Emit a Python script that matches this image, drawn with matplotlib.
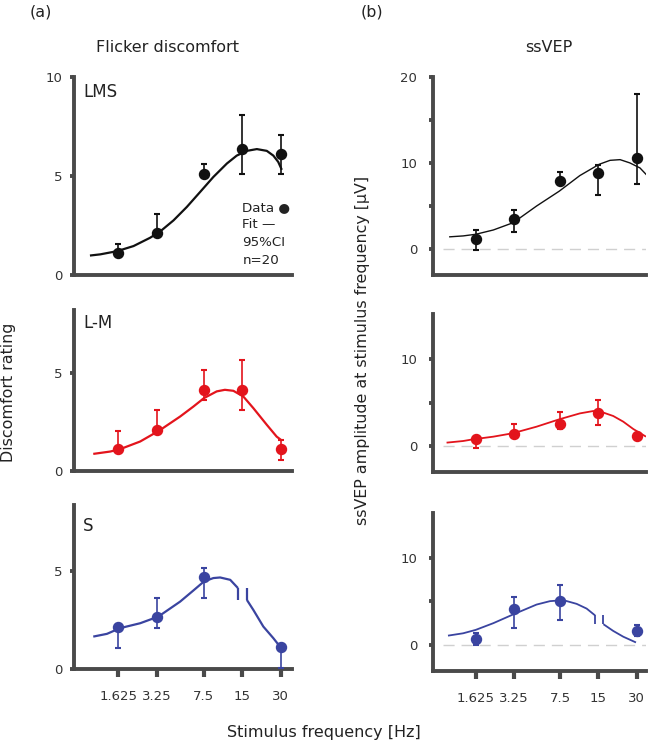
import numpy as np
import matplotlib
matplotlib.use("Agg")
import matplotlib.pyplot as plt
from matplotlib.ticker import FixedLocator, NullLocator, FixedFormatter

plt.rcParams['font.family'] = ['DejaVu Sans']

nan = np.nan

# ---------------- data ----------------
freqs = [1.625, 3.25, 7.5, 15, 30]
freq_labels = ["1.625", "3.25", "7.5", "15", "30"]

# Flicker discomfort ratings (mean, lower CI, upper CI)
disc_lms = [1.07, 2.08, 5.08, 6.35, 6.09]
disc_lms_lo = [0.92, 1.93, 4.93, 5.08, 5.08]
disc_lms_hi = [1.52, 3.05, 5.58, 8.07, 7.06]

disc_lm = [1.10, 2.09, 4.13, 4.13, 1.10]
disc_lm_lo = [0.95, 1.94, 3.59, 3.08, 0.56]
disc_lm_hi = [2.06, 3.08, 5.12, 5.63, 1.58]

disc_s = [2.12, 2.63, 4.68, nan, 1.10]
disc_s_lo = [1.05, 2.07, 3.64, nan, 0.03]
disc_s_hi = [2.27, 3.64, 5.14, nan, 1.25]

# ssVEP amplitudes [uV]
vep_lms = [1.16, 3.55, 7.90, 8.86, 10.56]
vep_lms_lo = [-0.10, 2.04, 7.55, 6.32, 7.55]
vep_lms_hi = [2.23, 4.50, 8.98, 9.75, 18.0]

vep_lm = [0.77, 1.38, 2.53, 3.83, 1.19]
vep_lm_lo = [-0.20, 1.05, 1.91, 2.41, 0.90]
vep_lm_hi = [1.20, 2.53, 3.87, 5.29, 1.50]

vep_s = [0.66, 4.07, 5.00, nan, 1.59]
vep_s_lo = [0.00, 1.90, 2.87, nan, 1.05]
vep_s_hi = [1.30, 5.47, 6.86, nan, 2.29]

# Fitted curves
fit_disc_lms_f = [0.98, 1.18, 1.59, 2.14, 2.88, 3.45, 4.38, 5.56, 7.06, 8.95, 11.4, 13.6, 16.3, 19.5, 23.3, 26.2, 28.6, 30.5]
fit_disc_lms_v = [0.96, 1.02, 1.18, 1.44, 1.86, 2.18, 2.74, 3.42, 4.18, 4.94, 5.62, 6.02, 6.26, 6.35, 6.26, 6.02, 5.70, 5.30]

fit_disc_lm_f = [1.04, 1.41, 1.68, 2.41, 3.40, 4.93, 6.26, 7.57, 9.5, 11.0, 12.8, 15.3, 18.3, 23.3, 27.8, 30.5]
fit_disc_lm_v = [0.87, 0.99, 1.11, 1.50, 2.06, 2.77, 3.28, 3.71, 4.05, 4.13, 4.08, 3.79, 3.20, 2.35, 1.75, 1.55]

fit_disc_s_f = [1.04, 1.33, 1.68, 2.41, 3.34, 4.93, 6.26, 7.57, 8.95, 10.1, 12.1, 13.9, nan, 16.3, 18.3, 21.9, 26.2, 30.5]
fit_disc_s_v = [1.65, 1.79, 2.08, 2.33, 2.67, 3.43, 4.00, 4.46, 4.63, 4.66, 4.54, 4.12, nan, 3.52, 3.01, 2.16, 1.57, 1.02]

fit_vep_lms_f = [1.0, 1.29, 1.62, 2.23, 3.2, 4.88, 7.37, 10.7, 15.2, 18.5, 22.2, 26.5, 31.8, 37.7]
fit_vep_lms_v = [1.43, 1.54, 1.73, 2.23, 3.08, 5.01, 6.74, 8.55, 9.86, 10.32, 10.40, 10.02, 9.44, 8.29]

fit_vep_lm_f = [0.955, 1.29, 1.55, 2.23, 3.16, 4.88, 7.37, 10.7, 13.6, 15.4, 19.6, 23.5, 28.2, 35.5]
fit_vep_lm_v = [0.38, 0.57, 0.77, 1.07, 1.46, 2.22, 3.07, 3.75, 4.02, 3.98, 3.45, 2.80, 1.95, 1.07]

fit_vep_s_f = [0.98, 1.29, 1.62, 2.23, 3.16, 4.88, 6.22, 7.92, 10.1, 12.1, 14.1, nan, 16.4, 19.6, 23.5, 29.6]
fit_vep_s_v = [1.05, 1.32, 1.71, 2.48, 3.45, 4.61, 5.00, 5.12, 4.69, 4.15, 3.37, nan, 2.36, 1.59, 0.93, 0.27]

# break marks at the missing 15 Hz S condition
brk_disc_s_f = [13.9, 16.3]
brk_disc_s_lo, brk_disc_s_hi = 3.52, 4.12
brk_vep_s_f = [14.1, 16.4]
brk_vep_s_lo, brk_vep_s_hi = 2.36, 3.42

cond_labels = ["LMS", "L-M", "S"]
c_black = "#111111"
c_red = "#e3141c"
c_blue = "#3a44a0"
spine_c = "#4a4a4a"
txt_c = "#222222"

# ---------------- figure ----------------
W, H = 650, 746
fig = plt.figure(figsize=(W / 100, H / 100), dpi=100)


def pos(x0, y0, x1, y1):
    return [x0 / W, 1 - y1 / H, (x1 - x0) / W, (y1 - y0) / H]


def style(ax, bottom_ticks, ylab_pad):
    for s in ["top", "right"]:
        ax.spines[s].set_visible(False)
    for s in ["left", "bottom"]:
        ax.spines[s].set_linewidth(2.8)
        ax.spines[s].set_color(spine_c)
        ax.spines[s].set_capstyle("projecting")
    ax.set_xscale("log")
    ax.tick_params(axis="y", which="both", direction="out", length=3, width=2.8,
                   color=spine_c, labelsize=9.5, labelcolor="#333333", pad=ylab_pad)
    ax.xaxis.set_minor_locator(NullLocator())
    if bottom_ticks:
        ax.xaxis.set_major_locator(FixedLocator(freqs))
        ax.xaxis.set_major_formatter(FixedFormatter(freq_labels))
        ax.tick_params(axis="x", which="major", direction="out", length=6, width=3,
                       color=spine_c, labelsize=9.5, labelcolor="#333333", pad=9)
    else:
        ax.xaxis.set_major_locator(NullLocator())


def draw(ax, mean, lo, hi, ff, fv, color, lw_fit, ms):
    m = np.array(mean, float)
    l = np.array(lo, float)
    h = np.array(hi, float)
    f = np.array(freqs, float)
    ok = np.isfinite(m)
    ax.plot(ff, fv, color=color, lw=lw_fit, zorder=2, solid_capstyle="butt")
    ax.errorbar(f[ok], m[ok], yerr=[m[ok] - l[ok], h[ok] - m[ok]], fmt="o",
                color=color, ms=ms, elinewidth=1.2, capsize=2.3, capthick=1.5,
                zorder=3, clip_on=False)


axes_left = [
    fig.add_axes(pos(73.5, 77, 292, 274.5)),
    fig.add_axes(pos(73.5, 310, 292, 471)),
    fig.add_axes(pos(73.5, 505, 292, 669)),
]
axes_right = [
    fig.add_axes(pos(432.5, 77, 646, 275)),
    fig.add_axes(pos(432.5, 314, 646, 472)),
    fig.add_axes(pos(432.5, 513, 646, 671)),
]

left_data = [
    (disc_lms, disc_lms_lo, disc_lms_hi, fit_disc_lms_f, fit_disc_lms_v, c_black),
    (disc_lm, disc_lm_lo, disc_lm_hi, fit_disc_lm_f, fit_disc_lm_v, c_red),
    (disc_s, disc_s_lo, disc_s_hi, fit_disc_s_f, fit_disc_s_v, c_blue),
]
right_data = [
    (vep_lms, vep_lms_lo, vep_lms_hi, fit_vep_lms_f, fit_vep_lms_v, c_black),
    (vep_lm, vep_lm_lo, vep_lm_hi, fit_vep_lm_f, fit_vep_lm_v, c_red),
    (vep_s, vep_s_lo, vep_s_hi, fit_vep_s_f, fit_vep_s_v, c_blue),
]
left_ylims = [(0, 10), (0, 8.19), (0, 8.35)]
left_yticks = [[0, 5, 10], [0, 5], [0, 5]]
right_ylims = [(-3, 20), (-3, 15.2), (-3, 15.1)]
right_yticks = [[0, 10, 20], [0, 10], [0, 10]]
right_yminor = [[5, 15], [5], [5]]
label_y = [0.925, 0.92, 0.872]

for i, ax in enumerate(axes_left):
    mean, lo, hi, ff, fv, col = left_data[i]
    draw(ax, mean, lo, hi, ff, fv, col, 1.6, 7.2)
    ax.set_xlim(0.73, 36.6)
    ax.set_ylim(*left_ylims[i])
    ax.set_yticks(left_yticks[i])
    style(ax, i == 2, 5)
    ax.text(0.045, label_y[i], cond_labels[i], transform=ax.transAxes,
            fontsize=12, color=txt_c, va="center", ha="left")

for i, ax in enumerate(axes_right):
    mean, lo, hi, ff, fv, col = right_data[i]
    ax.axhline(0, xmin=0.05, xmax=1, color="#d0d0d0", lw=1, dashes=(8, 5), zorder=1)
    draw(ax, mean, lo, hi, ff, fv, col, 1.0 if i == 0 else 1.3, 7.2)
    ax.set_xlim(0.74, 35.5)
    ax.set_ylim(*right_ylims[i])
    ax.set_yticks(right_yticks[i])
    ax.yaxis.set_minor_locator(FixedLocator(right_yminor[i]))
    style(ax, i == 2, 8)

# break marks for missing S 15 Hz
axes_left[2].vlines(brk_disc_s_f, brk_disc_s_lo, brk_disc_s_hi, color=c_blue, lw=1.6)
axes_right[2].vlines(brk_vep_s_f, brk_vep_s_lo, brk_vep_s_hi, color=c_blue, lw=1.3)

# legend-like annotation in LMS discomfort panel
leg_lines = ["Data \u25CF", "Fit \u2014", "95%CI", "n=20"]
leg_y = [0.340, 0.254, 0.162, 0.071]
for t, yy in zip(leg_lines, leg_y):
    axes_left[0].text(0.773, yy, t, transform=axes_left[0].transAxes,
                      fontsize=9.6, color=txt_c, va="center", ha="left")

# titles and labels
fig.text(41 / W, 1 - 12 / H, "(a)", fontsize=11.4, color=txt_c, ha="center", va="center")
fig.text(372 / W, 1 - 12 / H, "(b)", fontsize=11.4, color=txt_c, ha="center", va="center")
fig.text(167 / W, 1 - 47 / H, "Flicker discomfort", fontsize=11.5, color=txt_c,
         ha="center", va="center")
fig.text(549 / W, 1 - 47 / H, "ssVEP", fontsize=11.5, color=txt_c, ha="center", va="center")
fig.text(9 / W, 1 - 392 / H, "Discomfort rating", fontsize=11.4, color=txt_c,
         rotation=90, ha="center", va="center")
fig.text(363 / W, 1 - 350 / H, "ssVEP amplitude at stimulus frequency [\u00b5V]",
         fontsize=11.4, color=txt_c, rotation=90, ha="center", va="center")
fig.text(324 / W, 1 - 733 / H, "Stimulus frequency [Hz]", fontsize=11.5, color=txt_c,
         ha="center", va="center")

fig.savefig("out.png", dpi=100)
